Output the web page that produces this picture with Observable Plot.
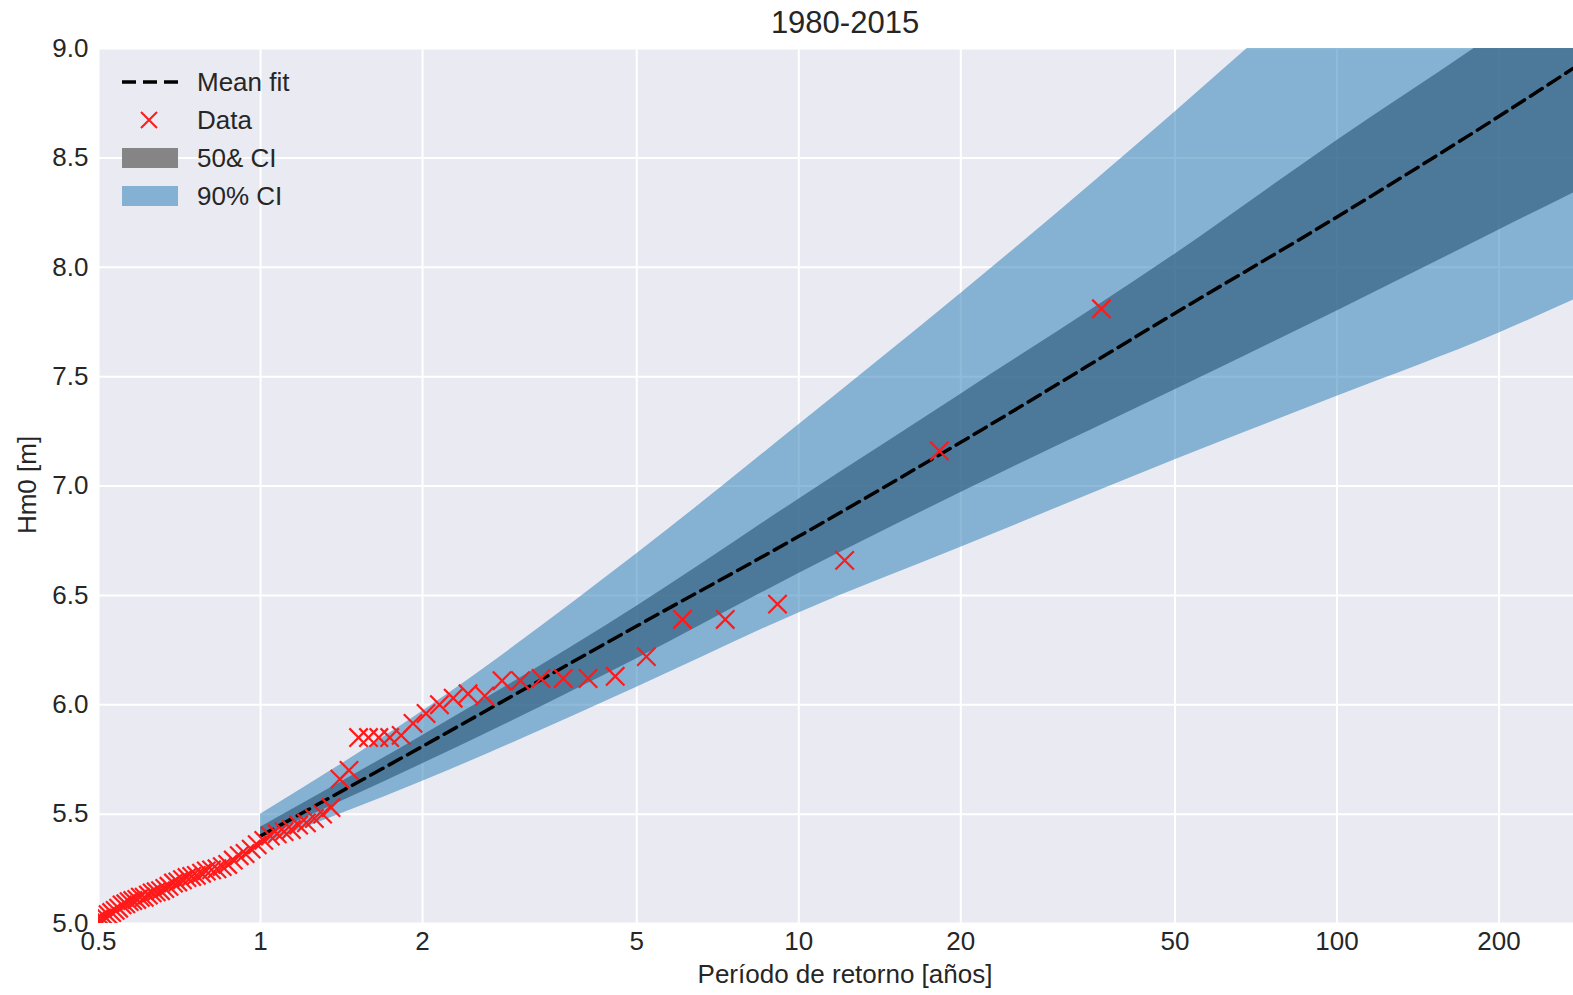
<!DOCTYPE html>
<html><head><meta charset="utf-8">
<script src="https://cdn.jsdelivr.net/npm/d3@7"></script>
<script src="https://cdn.jsdelivr.net/npm/@observablehq/plot@0.6"></script>
<style>
body{margin:0;background:#fff;font-family:"Liberation Sans",Arial,sans-serif;}
#wrap{position:relative;width:1573px;height:995px;overflow:hidden;}
#wrap svg{position:absolute;left:0;top:0;}
.lbl{position:absolute;color:#262626;white-space:nowrap;line-height:1;}
</style></head><body><div id="wrap"></div>
<script>
// Tick labels
const xTicks = [0.5, 1, 2, 5, 10, 20, 50, 100, 200];
const yTicks = [5.0, 5.5, 6.0, 6.5, 7.0, 7.5, 8.0, 8.5, 9.0];

// Fitted curve and confidence bands (return period in years, Hm0 in m)
const T_fit  = [1, 2, 5, 10, 20, 50, 100, 200, 275];
const meanFit = [5.40, 5.81, 6.36, 6.77, 7.20, 7.79, 8.23, 8.69, 8.91];
const ci50Lo  = [5.39, 5.73, 6.21, 6.60, 6.97, 7.44, 7.80, 8.17, 8.34];
const ci50Hi  = [5.44, 5.86, 6.45, 6.94, 7.42, 8.06, 8.58, 9.08, 9.33];
const ci90Lo  = [5.36, 5.65, 6.08, 6.42, 6.72, 7.12, 7.41, 7.70, 7.85];
const ci90Hi  = [5.50, 5.97, 6.69, 7.28, 7.88, 8.71, 9.37, 10.07, 10.39];

// Observed data
const T_data = [36.5, 18.25, 12.17, 9.13, 7.30, 6.08, 5.21, 4.56, 4.06, 3.65,
  3.32, 3.04, 2.81, 2.61, 2.43, 2.28, 2.15, 2.03, 1.92, 1.825,
  1.738, 1.659, 1.587, 1.521, 1.46, 1.404, 1.352, 1.304, 1.259, 1.217,
  1.177, 1.141, 1.106, 1.074, 1.043, 1.014,
  0.986, 0.961, 0.936, 0.913, 0.890, 0.869, 0.849, 0.830, 0.811, 0.793,
  0.777, 0.760, 0.745, 0.730, 0.716, 0.702, 0.689, 0.676, 0.664, 0.652,
  0.640, 0.629, 0.619, 0.608, 0.598, 0.589, 0.579, 0.570, 0.562, 0.553,
  0.545, 0.537, 0.529, 0.521, 0.514, 0.507, 0.500, 0.493, 0.487];
const Hm0_data = [7.81, 7.16, 6.66, 6.46, 6.39, 6.39, 6.22, 6.13, 6.12, 6.12,
  6.12, 6.11, 6.11, 6.04, 6.05, 6.03, 6.00, 5.96, 5.915, 5.86,
  5.85, 5.85, 5.85, 5.85, 5.70, 5.66, 5.53, 5.50, 5.48, 5.46,
  5.45, 5.43, 5.42, 5.41, 5.40, 5.38,
  5.36, 5.34, 5.32, 5.31, 5.29, 5.27, 5.26, 5.25, 5.245, 5.24,
  5.23, 5.22, 5.215, 5.21, 5.20, 5.19, 5.185, 5.17, 5.16, 5.15,
  5.145, 5.14, 5.13, 5.12, 5.12, 5.11, 5.105, 5.10, 5.09, 5.085,
  5.07, 5.06, 5.05, 5.04, 5.03, 5.025, 5.02, 5.01, 5.00];

const titleText = "1980-2015";
const xLabel = "Período de retorno [años]";
const yLabel = "Hm0 [m]";
const legendItems = ["Mean fit", "Data", "50& CI", "90% CI"];

const fit = T_fit.map((t, i) => ({T: t, mean: meanFit[i], lo50: ci50Lo[i], hi50: ci50Hi[i], lo90: ci90Lo[i], hi90: ci90Hi[i]}));
const data = T_data.map((t, i) => ({T: t, h: Hm0_data[i]}));

const chart = Plot.plot({
  width: 1573, height: 995,
  marginLeft: 98, marginRight: 0, marginTop: 48, marginBottom: 72,
  style: {background: "transparent", fontFamily: "'Liberation Sans', Arial, sans-serif", fontSize: "26px", color: "#262626"},
  x: {type: "log", domain: [0.5, 275]},
  y: {domain: [5, 9]},
  marks: [
    Plot.frame({fill: "#EAEAF2", stroke: null}),
    Plot.gridX(xTicks, {stroke: "#ffffff", strokeOpacity: 1, strokeWidth: 2}),
    Plot.gridY(yTicks, {stroke: "#ffffff", strokeOpacity: 1, strokeWidth: 2}),
    Plot.areaY(fit, {x: "T", y1: "lo90", y2: "hi90", curve: "monotone-x", fill: "#1f77b4", fillOpacity: 0.5, clip: true}),
    Plot.areaY(fit, {x: "T", y1: "lo50", y2: "hi50", curve: "monotone-x", fill: "#2A5676", fillOpacity: 0.62, clip: true}),
    Plot.line(fit, {x: "T", y: "mean", curve: "monotone-x", stroke: "#000", strokeWidth: 3.5, strokeDasharray: "14,7", clip: true}),
    Plot.dot(data, {x: "T", y: "h", symbol: "times", r: 8.4, stroke: "#ff1a1a", strokeWidth: 2.2, fill: "none", clip: true}),
    Plot.axisX(xTicks, {tickSize: 0, tickPadding: 8, fontSize: 26, label: null, tickFormat: d => String(d), fill: "#262626"}),
    Plot.axisY(yTicks, {tickSize: 0, tickPadding: 10, fontSize: 26, label: null, tickFormat: d => d.toFixed(1), fill: "#262626"})
  ]
});

const wrap = document.getElementById("wrap");
wrap.appendChild(chart);

function addLabel(text, x, y, size, extra) {
  const d = document.createElement("div");
  d.className = "lbl";
  d.textContent = text;
  d.style.left = x + "px";
  d.style.top = y + "px";
  d.style.fontSize = size + "px";
  d.style.transform = "translate(-50%,-50%)" + (extra || "");
  wrap.appendChild(d);
  return d;
}
addLabel(titleText, 845, 22, 31);
addLabel(xLabel, 845, 974, 26);
addLabel(yLabel, 27, 485, 26, " rotate(-90deg)");

// Legend (inside plot, top-left)
const rows = [82, 120, 158, 196];
const sw = document.createElementNS("http://www.w3.org/2000/svg", "svg");
sw.setAttribute("width", 1573); sw.setAttribute("height", 995);
sw.style.position = "absolute"; sw.style.left = "0"; sw.style.top = "0";
sw.innerHTML = `
  <line x1="122" x2="178" y1="${rows[0]}" y2="${rows[0]}" stroke="#000" stroke-width="3.5" stroke-dasharray="14,7"/>
  <path d="M141,${rows[1]-8} L157,${rows[1]+8} M141,${rows[1]+8} L157,${rows[1]-8}" stroke="#ff1a1a" stroke-width="2" fill="none"/>
  <rect x="122" y="${rows[2]-10}" width="56" height="20" fill="#858585"/>
  <rect x="122" y="${rows[3]-10}" width="56" height="20" fill="#84B0D3"/>`;
wrap.appendChild(sw);
legendItems.forEach((t, i) => {
  const d = document.createElement("div");
  d.className = "lbl";
  d.textContent = t;
  d.style.left = "197px";
  d.style.top = rows[i] + "px";
  d.style.fontSize = "26px";
  d.style.transform = "translate(0,-50%)";
  wrap.appendChild(d);
});
</script></body></html>
